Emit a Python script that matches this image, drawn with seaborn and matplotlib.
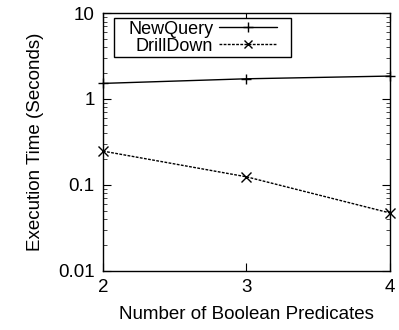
import matplotlib
matplotlib.use("Agg")
import matplotlib.pyplot as plt
import matplotlib.patches as mpatches
import seaborn as sns
import pandas as pd
from matplotlib.ticker import LogLocator, NullFormatter, FixedLocator
from matplotlib.lines import Line2D

predicates = [2, 3, 4]
new_query = [1.52, 1.72, 1.85]
drill_down = [0.247, 0.124, 0.047]
series_names = ["NewQuery", "DrillDown"]
y_ticks = [0.01, 0.1, 1, 10]
y_tick_labels = ["0.01", "0.1", "1", "10"]

df = pd.DataFrame({
    "x": predicates * 2,
    "y": new_query + drill_down,
    "series": [series_names[0]] * 3 + [series_names[1]] * 3,
})

sns.set_theme(style="ticks")
plt.rcParams["font.family"] = ["Liberation Sans", "DejaVu Sans"]
plt.rcParams["text.color"] = "black"
plt.rcParams["axes.labelcolor"] = "black"

fig = plt.figure(figsize=(3.99, 3.30), dpi=100)
ax = fig.add_axes([0.258, 0.180, 0.719, 0.780])

sns.lineplot(data=df, x="x", y="y", hue="series", style="series",
             palette={"NewQuery": "black", "DrillDown": "black"},
             dashes={"NewQuery": "", "DrillDown": (2, 1)},
             markers={"NewQuery": "+", "DrillDown": "x"},
             markersize=6.5, markeredgewidth=1.0, markeredgecolor="black",
             linewidth=1.0, ax=ax, legend=False, clip_on=False)

ax.set_yscale("log")
ax.set_ylim(0.01, 10)
ax.set_xlim(2, 4)
ax.set_xticks(predicates)
ax.set_xticklabels([str(p) for p in predicates])
ax.yaxis.set_major_locator(FixedLocator(y_ticks))
ax.set_yticklabels(y_tick_labels)
ax.yaxis.set_minor_locator(LogLocator(base=10, subs=range(2, 10)))
ax.yaxis.set_minor_formatter(NullFormatter())

ax.tick_params(axis="both", which="major", direction="in", length=6, width=0.8,
               top=True, right=True, labelsize=13.5, colors="black", pad=6)
ax.tick_params(axis="y", which="minor", direction="in", length=3, width=0.6,
               right=True, left=True)
for s in ax.spines.values():
    s.set_linewidth(1.0)
    s.set_color("black")

ax.set_xlabel("Number of Boolean Predicates", fontsize=13.5, labelpad=7)
ax.set_ylabel("Execution Time (Seconds)", fontsize=13.5, labelpad=10)

handles = [
    Line2D([], [], color="black", lw=1.0, marker="+", markersize=6.5),
    Line2D([], [], color="black", lw=1.0, ls=(0, (2, 1)), marker="x", markersize=6),
]
leg = ax.legend(handles, series_names, loc="upper left", bbox_to_anchor=(0.078, 0.982),
                markerfirst=False, frameon=False, fontsize=13,
                handlelength=3.2, handletextpad=0.35, borderpad=0.15,
                labelspacing=0.0, borderaxespad=0.0)
leg.set_zorder(5)

fig.canvas.draw()
bb = leg.get_window_extent(fig.canvas.get_renderer())
padx = 11
inv = ax.transAxes.inverted()
(x0, y0) = inv.transform((bb.x0 - padx, bb.y0))
(x1, y1) = inv.transform((bb.x1 + padx, bb.y1))
rect = mpatches.Rectangle((x0, y0), x1 - x0, y1 - y0, transform=ax.transAxes,
                          facecolor="white", edgecolor="black", linewidth=1.0,
                          zorder=4, clip_on=False)
ax.add_patch(rect)

fig.savefig("out.png", dpi=100)
